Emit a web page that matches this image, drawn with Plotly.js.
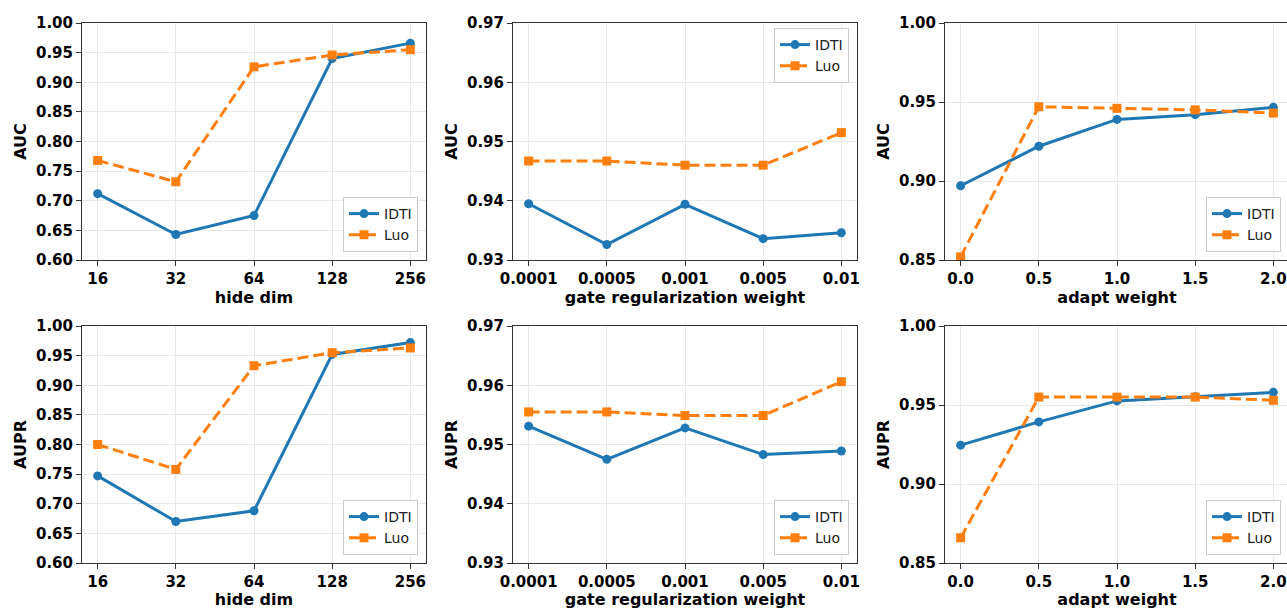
<!DOCTYPE html>
<html>
<head>
<meta charset="utf-8">
<script src="https://cdn.plot.ly/plotly-3.0.1.min.js"></script>
<style>
html,body{margin:0;padding:0;overflow:hidden;background:#fff;}
#chart{width:1300px;height:609px;}
</style>
</head>
<body>
<div id="chart"></div>
<script>
// ---- data ----
const hideDim = ['16', '32', '64', '128', '256'];
const gateWeight = ['0.0001', '0.0005', '0.001', '0.005', '0.01'];
const adaptWeight = [0.0, 0.5, 1.0, 1.5, 2.0];

const aucHideIDTI = [0.712, 0.643, 0.675, 0.940, 0.966];
const aucHideLuo = [0.768, 0.732, 0.926, 0.946, 0.955];
const aucGateIDTI = [0.9395, 0.9326, 0.9394, 0.9336, 0.9346];
const aucGateLuo = [0.9467, 0.9467, 0.9460, 0.9460, 0.9515];
const aucAdaptIDTI = [0.897, 0.922, 0.939, 0.942, 0.9466];
const aucAdaptLuo = [0.852, 0.947, 0.946, 0.945, 0.943];

const auprHideIDTI = [0.747, 0.670, 0.688, 0.952, 0.972];
const auprHideLuo = [0.800, 0.758, 0.933, 0.955, 0.963];
const auprGateIDTI = [0.9531, 0.9475, 0.9528, 0.9483, 0.9489];
const auprGateLuo = [0.9555, 0.9555, 0.9549, 0.9549, 0.9606];
const auprAdaptIDTI = [0.9246, 0.9393, 0.9526, 0.9553, 0.958];
const auprAdaptLuo = [0.866, 0.955, 0.955, 0.955, 0.953];

const seriesNames = ['IDTI', 'Luo'];

// ---- layout helpers ----
const W = 1300, H = 609;
const FONT = 'DejaVu Sans, sans-serif';
const BLUE = '#1f77b4', ORANGE = '#ff7f0e';
const colX = [[82, 426], [513, 857], [945, 1289]];
const rowY = [[23, 260], [326, 563]];
const fx = p => p / W;
const fy = p => 1 - p / H;

const panels = [
  {row: 0, col: 0, x: hideDim, a: aucHideIDTI, b: aucHideLuo, ytitle: 'AUC', xtitle: 'hide dim', yr: [0.6, 1.0], dt: 0.05, leg: 'br'},
  {row: 0, col: 1, x: gateWeight, a: aucGateIDTI, b: aucGateLuo, ytitle: 'AUC', xtitle: 'gate regularization weight', yr: [0.93, 0.97], dt: 0.01, leg: 'tr'},
  {row: 0, col: 2, x: adaptWeight, a: aucAdaptIDTI, b: aucAdaptLuo, ytitle: 'AUC', xtitle: 'adapt weight', yr: [0.85, 1.0], dt: 0.05, leg: 'br'},
  {row: 1, col: 0, x: hideDim, a: auprHideIDTI, b: auprHideLuo, ytitle: 'AUPR', xtitle: 'hide dim', yr: [0.6, 1.0], dt: 0.05, leg: 'br'},
  {row: 1, col: 1, x: gateWeight, a: auprGateIDTI, b: auprGateLuo, ytitle: 'AUPR', xtitle: 'gate regularization weight', yr: [0.93, 0.97], dt: 0.01, leg: 'br'},
  {row: 1, col: 2, x: adaptWeight, a: auprAdaptIDTI, b: auprAdaptLuo, ytitle: 'AUPR', xtitle: 'adapt weight', yr: [0.85, 1.0], dt: 0.05, leg: 'br'}
];

const traces = [];
const layout = {
  width: W, height: H,
  margin: {l: 0, r: 0, t: 0, b: 0},
  paper_bgcolor: '#ffffff', plot_bgcolor: '#ffffff',
  font: {family: FONT, color: '#000'},
  showlegend: true
};

panels.forEach((p, i) => {
  const n = i + 1;
  const xa = n === 1 ? 'x' : 'x' + n;
  const ya = n === 1 ? 'y' : 'y' + n;
  const legName = n === 1 ? 'legend' : 'legend' + n;
  traces.push({
    type: 'scatter', mode: 'lines+markers', name: seriesNames[0],
    x: p.x, y: p.a, xaxis: xa, yaxis: ya, legend: legName,
    line: {color: BLUE, width: 3},
    marker: {symbol: 'circle', size: 9, color: BLUE}
  });
  traces.push({
    type: 'scatter', mode: 'lines+markers', name: seriesNames[1],
    x: p.x, y: p.b, xaxis: xa, yaxis: ya, legend: legName,
    line: {color: ORANGE, width: 3, dash: '11px,5px'},
    marker: {symbol: 'square', size: 9, color: ORANGE}
  });
  const numeric = p.col === 2;
  const xaxis = {
    domain: [fx(colX[p.col][0]), fx(colX[p.col][1])],
    anchor: ya,
    type: numeric ? 'linear' : 'category',
    range: numeric ? [-0.1, 2.1] : [-0.2, 4.2],
    showline: true, mirror: true, linecolor: '#333', linewidth: 1,
    ticks: 'outside', ticklen: 5, tickwidth: 1, tickcolor: '#333',
    showgrid: true, gridcolor: '#e8e8e8', gridwidth: 1,
    zeroline: false,
    tickfont: {family: FONT, size: 15, weight: 'bold', color: '#000'},
    title: {text: p.xtitle, font: {family: FONT, size: 16, weight: 'bold', color: '#000'}, standoff: 4},
    automargin: false, fixedrange: true
  };
  if (numeric) { xaxis.dtick = 0.5; xaxis.tick0 = 0; xaxis.tickformat = '.1f'; }
  const yaxis = {
    domain: [fy(rowY[p.row][1]), fy(rowY[p.row][0])],
    anchor: xa,
    range: p.yr, dtick: p.dt, tick0: p.yr[0], tickformat: '.2f',
    showline: true, mirror: true, linecolor: '#333', linewidth: 1,
    ticks: 'outside', ticklen: 5, tickwidth: 1, tickcolor: '#333',
    showgrid: true, gridcolor: '#e8e8e8', gridwidth: 1,
    zeroline: false,
    tickfont: {family: FONT, size: 15, weight: 'bold', color: '#000'},
    title: {text: p.ytitle, font: {family: FONT, size: 16, weight: 'bold', color: '#000'}, standoff: 5},
    automargin: false, fixedrange: true
  };
  layout[n === 1 ? 'xaxis' : 'xaxis' + n] = xaxis;
  layout[n === 1 ? 'yaxis' : 'yaxis' + n] = yaxis;
  const right = colX[p.col][1] - 8;
  const leg = {
    xref: 'paper', yref: 'paper',
    x: fx(right), xanchor: 'right',
    bgcolor: 'rgba(255,255,255,0.85)', bordercolor: '#cccccc', borderwidth: 1,
    font: {family: FONT, size: 14, color: '#222'},
    tracegroupgap: 0, itemwidth: 30
  };
  if (p.leg === 'br') { leg.y = fy(rowY[p.row][1] - 8); leg.yanchor = 'bottom'; }
  else { leg.y = fy(rowY[p.row][0] + 5); leg.yanchor = 'top'; }
  layout[legName] = leg;
});

Plotly.newPlot('chart', traces, layout, {displayModeBar: false, staticPlot: true});
</script>
</body>
</html>
